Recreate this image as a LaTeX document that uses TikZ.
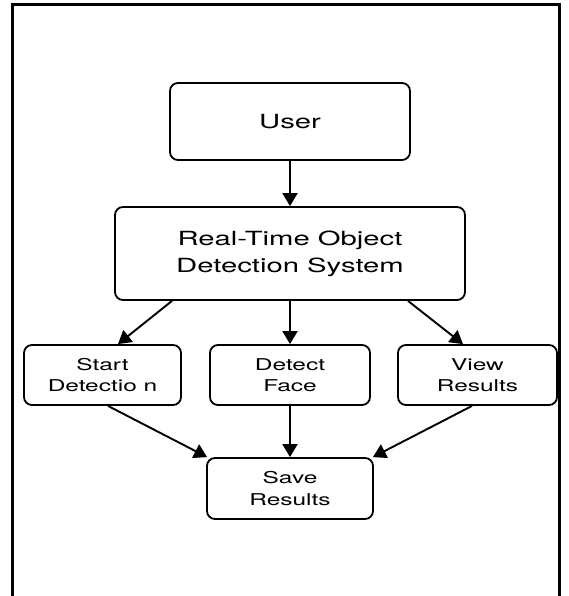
\documentclass[tikz,border=0pt]{standalone}
\usepackage{fontspec}
\setmainfont{TeX Gyre Heros}
\newfontfamily\widesans[FakeStretch=1.5]{TeX Gyre Heros}
\usetikzlibrary{arrows.meta,calc}

\tikzset{
  box/.style={draw, line width=1.8pt, rounded corners=8pt, align=center,
              inner sep=0pt, fill=white},
  bigbox/.style={box, font=\widesans\fontsize{19.5}{27}\selectfont},
  smallbox/.style={box, font=\widesans\fontsize{16.3}{21.5}\selectfont,
                   minimum height=60pt},
  arr/.style={line width=1.9pt, -{Triangle[length=13pt,width=15pt]}},
  frame/.style={line width=3pt}
}

\begin{document}
\begin{tikzpicture}[x=1pt,y=-1pt]
  \useasboundingbox (0,0) rectangle (569,596);
  \fill[white] (0,0) rectangle (569,596);

  % outer frame (open at the bottom)
  \draw[frame] (12,597) -- (12,5) -- (559,5) -- (559,597);

  % nodes
  \node[bigbox, minimum width=240pt, minimum height=77pt] (user) at (290,121.5) {User};
  \node[bigbox, minimum width=350pt, minimum height=93pt] (rt) at (290,253.5)
       {Real-Time Object\\Detection System};
  \node[smallbox, minimum width=157pt] (start) at (102.5,375) {Start\\Detectio n};
  \node[smallbox, minimum width=160pt] (detect) at (290,375) {Detect\\Face};
  \node[smallbox, minimum width=159pt] (view) at (477.5,375) {View\\Results};
  \node[smallbox, minimum width=166pt, minimum height=61pt] (save) at (290,488.5) {Save\\Results};

  % connectors
  \draw[arr] (user.south) -- (rt.north);
  \draw[arr] ([xshift=-118pt]rt.south) -- ([xshift=15.5pt]start.north);
  \draw[arr] (rt.south) -- (detect.north);
  \draw[arr] ([xshift=118pt]rt.south) -- ([xshift=-14.5pt]view.north);
  \draw[arr] ([xshift=5.5pt]start.south) -- ([xshift=1pt]save.north west);
  \draw[arr] (detect.south) -- (save.north);
  \draw[arr] ([xshift=-5.5pt]view.south) -- ([xshift=-1pt]save.north east);
\end{tikzpicture}
\end{document}
